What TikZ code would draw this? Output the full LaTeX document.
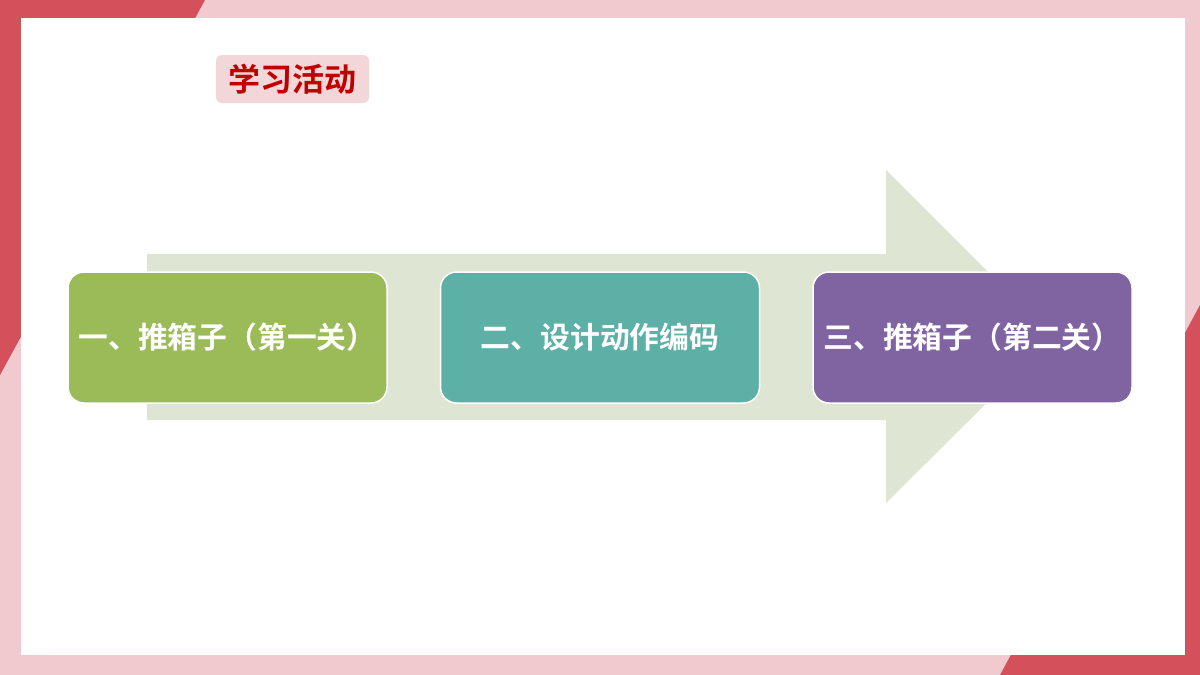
\documentclass[tikz,border=0pt]{standalone}
\usepackage{fontspec}
\newfontfamily\cjk{Noto Sans CJK SC}[BoldFont={Noto Sans CJK SC Bold}]
\usepackage{xcolor}
\usetikzlibrary{positioning}

\definecolor{framepink}{RGB}{240,202,206}
\definecolor{framered}{RGB}{212,80,90}
\definecolor{tagpink}{RGB}{242,214,216}
\definecolor{tagred}{RGB}{192,0,0}
\definecolor{arrowbg}{RGB}{223,229,211}
\definecolor{stepgreen}{RGB}{155,187,89}
\definecolor{stepteal}{RGB}{93,176,165}
\definecolor{steppurple}{RGB}{128,100,162}

\begin{document}
\begin{tikzpicture}[
x=1pt, y=-1pt,
node distance=52pt and 52pt,
stage/.style={draw=white, line width=1.5pt, rounded corners=16pt, minimum width=319pt, minimum height=131pt, inner sep=0pt, text=white, font=\cjk\bfseries\fontsize{29.8}{32}\selectfont},
tag/.style={fill=tagpink, rounded corners=6pt, minimum width=153pt, minimum height=48pt, text=tagred, font=\cjk\bfseries\fontsize{32}{34}\selectfont}
]
% frame
\fill[framepink] (0,0) rectangle (1200,675);
\fill[framered] (0,0) -- (205,0) -- (0,375) -- cycle;
\fill[framered] (1200,675) -- (1000,675) -- (1200,305) -- cycle;
\fill[white] (21,18) rectangle (1185,655);
\useasboundingbox (0,0) rectangle (1200,675);

% title
\node[tag] (title) at (292.5,79) {学习活动};

% big arrow
\fill[arrowbg] (147,254) -- (886,254) -- (886,170) -- (1053,337) -- (886,503) -- (886,420) -- (147,420) -- cycle;

% stages
\node[stage, fill=stepgreen] (lvl1) at (227.5,337.5) {一、推箱子（第一关）};
\node[stage, fill=stepteal, right=of lvl1] (code) {二、设计动作编码};
\node[stage, fill=steppurple, right=of code] (lvl2) {三、推箱子（第二关）};
\end{tikzpicture}
\end{document}
